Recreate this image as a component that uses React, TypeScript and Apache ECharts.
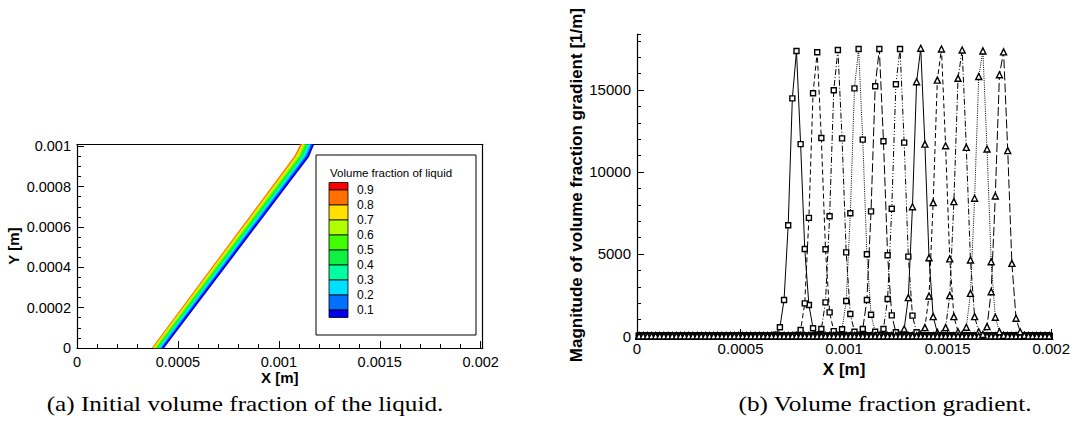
import React, { useEffect, useRef } from 'react';
import * as echarts from 'echarts';

// ---------- data: (a) contour lines of the volume fraction ----------
const LEVELS = ['0.9', '0.8', '0.7', '0.6', '0.5', '0.4', '0.3', '0.2', '0.1'];
// x of each contour line at y = 0, y = 0.00095 and y = 0.00101 (upper-left to lower-right)
const CONTOUR_Y = [0, 0.00095, 0.00101];
const CONTOUR_X_BOTTOM = [0.000376, 0.000382, 0.000388, 0.000395, 0.000401, 0.000407, 0.000413, 0.00042, 0.000426];
const CONTOUR_X_MID = [0.001082, 0.00109, 0.001098, 0.001106, 0.001114, 0.001122, 0.00113, 0.001137, 0.001145];
const CONTOUR_X_TOP = [0.001112, 0.00112, 0.001127, 0.001134, 0.001141, 0.001148, 0.001155, 0.001163, 0.00117];

// ---------- data: (b) gradient magnitude profiles ----------
const CELL_FIRST = 0.00001;
const CELL_WIDTH = 0.00002;
const CELL_COUNT = 100;
// first cell of non-zero values for each time step, then the non-zero values
const PROFILE_STARTS = [0.00067, 0.00077, 0.00087, 0.00097, 0.00107, 0.00117, 0.00127, 0.00137, 0.00147, 0.00157, 0.00167];
const PROFILE_1 = [80, 530, 2195, 6750, 14490, 17380, 11700, 5300, 1890, 470, 80];
const PROFILE_2 = [60, 365, 1990, 7200, 14800, 17300, 12070, 5290, 1440, 300, 50];
const PROFILE_3 = [70, 425, 2050, 7300, 14980, 17440, 12050, 5100, 1340, 260, 40];
const PROFILE_4 = [70, 410, 2130, 7480, 15100, 17500, 11970, 4980, 1300, 260, 40];
const PROFILE_5 = [70, 430, 2195, 7600, 15230, 17500, 11870, 4920, 1260, 225, 40];
const PROFILE_6 = [70, 430, 2255, 7760, 15350, 17500, 11790, 4840, 1240, 225, 40];
const PROFILE_7 = [70, 430, 2340, 7880, 15500, 17540, 11700, 4770, 1180, 220, 40];
const PROFILE_8 = [80, 510, 2440, 8130, 15600, 17500, 11600, 4700, 1180, 260, 40];
const PROFILE_9 = [80, 510, 2460, 8190, 15710, 17440, 11500, 4630, 1180, 260, 40];
const PROFILE_10 = [90, 530, 2600, 8400, 15820, 17380, 11400, 4530, 1140, 260, 40];
const PROFILE_11 = [90, 570, 2700, 8540, 15930, 17320, 11300, 4430, 1080, 260, 40];
const PROFILES = [PROFILE_1, PROFILE_2, PROFILE_3, PROFILE_4, PROFILE_5, PROFILE_6, PROFILE_7, PROFILE_8, PROFILE_9, PROFILE_10, PROFILE_11];

// ---------- styles ----------
const BAND_COLORS = ['#ff0000', '#ff7000', '#ffe000', '#b0ff00', '#40ff00', '#10f040', '#00ffa0', '#00e0ff', '#0070ff', '#0000f0'];
const LINE_COLORS = ['#ff7000', '#ffe000', '#b0ff00', '#40ff00', '#10f040', '#00ffa0', '#00e0ff', '#0070ff', '#0000f0'];
const DASHES: any[] = ['solid', [5, 3], [6, 2, 1, 2], [1, 1.2], [9, 3], [6, 2, 1, 2, 1, 2]];

const SANS = '"Liberation Sans", Arial, sans-serif';
const SERIF = '"Liberation Serif", "DejaVu Serif", serif';

function buildProfile(start: number, values: number[]) {
  const out: number[][] = [];
  for (let i = 0; i < CELL_COUNT; i++) {
    const x = +(CELL_FIRST + i * CELL_WIDTH).toFixed(6);
    const k = Math.round((x - start) / CELL_WIDTH);
    out.push([x, k >= 0 && k < values.length ? values[k] : 0]);
  }
  return out;
}

const fmt = (v: number) => String(+(+v).toFixed(6));

const axisCommon = (grid: number, min: number, max: number, interval: number, major: boolean, fontSize: number) => ({
  gridIndex: grid,
  type: 'value',
  min,
  max,
  interval,
  splitLine: { show: false },
  axisLine: { show: major, onZero: false, lineStyle: { color: '#000', width: 1.2 } },
  axisTick: { show: true, inside: true, length: major ? 7 : 4, lineStyle: { color: '#000', width: 1 } },
  axisLabel: {
    show: major,
    showMaxLabel: false,
    formatter: fmt,
    color: '#000',
    fontFamily: SANS,
    fontSize,
    margin: 6,
  },
});

const borderAxis = (grid: number, min: number, max: number, position: string) => ({
  gridIndex: grid,
  type: 'value',
  min,
  max,
  position,
  splitLine: { show: false },
  axisLine: { show: true, onZero: false, lineStyle: { color: '#000', width: 1.2 } },
  axisTick: { show: false },
  axisLabel: { show: false },
});

export default function App() {
  const ref = useRef<HTMLDivElement>(null);
  useEffect(() => {
    if (!ref.current) return;
    const chart = echarts.init(ref.current, undefined, { renderer: 'svg' });

    const contourSeries = LEVELS.map((lv, k) => ({
      type: 'line',
      name: 'contour ' + lv,
      xAxisIndex: 0,
      yAxisIndex: 0,
      showSymbol: false,
      silent: true,
      lineStyle: { color: LINE_COLORS[k], width: 2 },
      data: [
        [CONTOUR_X_BOTTOM[k], CONTOUR_Y[0]],
        [CONTOUR_X_MID[k], CONTOUR_Y[1]],
        [CONTOUR_X_TOP[k], CONTOUR_Y[2]],
      ],
    }));

    const profileSeries = PROFILES.map((vals, s) => ({
      type: 'line',
      name: 't' + (s + 1),
      xAxisIndex: 3,
      yAxisIndex: 3,
      symbol: s < 6 ? 'rect' : 'triangle',
      symbolSize: s < 6 ? 5 : 6,
      showAllSymbol: true,
      itemStyle: { color: '#fff', borderColor: '#000', borderWidth: 1.4 },
      lineStyle: { color: '#000', width: 1, type: DASHES[s % 6] },
      data: buildProfile(PROFILE_STARTS[s], vals),
    }));

    const swTop = 182.5;
    const swStep = 15;
    const swFirst = 190;
    const swatches: any[] = [];
    for (let b = 0; b < BAND_COLORS.length; b++) {
      const y0 = b === 0 ? swTop : swFirst + (b - 1) * swStep;
      const y1 = b === BAND_COLORS.length - 1 ? swFirst + (b - 1) * swStep + 7.5 : swFirst + b * swStep;
      swatches.push({
        type: 'rect',
        z: 11,
        shape: { x: 329, y: y0, width: 19, height: y1 - y0 },
        style: { fill: BAND_COLORS[b], stroke: '#000', lineWidth: 0.8 },
      });
    }
    const levelLabels = LEVELS.map((lv, k) => ({
      type: 'text',
      z: 11,
      style: {
        text: lv,
        x: 357,
        y: swFirst + k * swStep,
        fill: '#000',
        font: '12px ' + SANS,
        verticalAlign: 'middle',
        align: 'left',
      },
    }));

    chart.setOption({
      animation: false,
      backgroundColor: '#fff',
      grid: [
        { left: 77, top: 144.3, width: 405.7, height: 203.7 },
        { left: 637, top: 34.2, width: 415, height: 301.8 },
      ],
      xAxis: [
        {
          ...axisCommon(0, 0, 0.00201, 0.0005, true, 14.5), position: 'bottom',
          name: 'X [m]', nameLocation: 'middle', nameGap: 17,
          nameTextStyle: { color: '#000', fontFamily: SANS, fontSize: 15, fontWeight: 'bold' },
        },
        { ...axisCommon(0, 0, 0.00201, 0.0001, false, 14.5), position: 'bottom' },
        borderAxis(0, 0, 0.00201, 'top'),
        {
          ...axisCommon(1, 0, 0.002, 0.0005, true, 15), position: 'bottom',
          axisLabel: { show: true, formatter: fmt, color: '#000', fontFamily: SANS, fontSize: 15, margin: 5 },
          name: 'X [m]', nameLocation: 'middle', nameGap: 19,
          nameTextStyle: { color: '#000', fontFamily: SANS, fontSize: 17, fontWeight: 'bold' },
        },
        { ...axisCommon(1, 0, 0.002, 0.0001, false, 15), position: 'bottom' },
      ],
      yAxis: [
        {
          ...axisCommon(0, 0, 0.00101, 0.0002, true, 14.5), position: 'left',
          name: 'Y [m]', nameLocation: 'middle', nameGap: 56, nameRotate: 90,
          nameTextStyle: { color: '#000', fontFamily: SANS, fontSize: 15, fontWeight: 'bold' },
        },
        { ...axisCommon(0, 0, 0.00101, 0.00005, false, 14.5), position: 'left' },
        borderAxis(0, 0, 0.00101, 'right'),
        {
          ...axisCommon(1, 0, 18400, 5000, true, 15), position: 'left',
          name: 'Magnitude of volume fraction gradient [1/m]', nameLocation: 'middle', nameGap: 51, nameRotate: 90,
          nameTextStyle: { color: '#000', fontFamily: SANS, fontSize: 17, fontWeight: 'bold' },
        },
        { ...axisCommon(1, 0, 18400, 1000, false, 15), position: 'left' },
      ],
      series: [...contourSeries, ...profileSeries],
      graphic: [
        {
          type: 'rect',
          shape: { x: 316, y: 155, width: 160, height: 180 },
          style: { fill: '#fff', stroke: '#000', lineWidth: 1 },
          z: 10,
        },
        {
          type: 'text',
          z: 11,
          style: {
            text: 'Volume fraction of liquid', x: 330, y: 173,
            fill: '#000', font: '11.5px ' + SANS, verticalAlign: 'middle', align: 'left',
          },
        },
        ...swatches,
        ...levelLabels,
        {
          type: 'text',
          x: 245,
          y: 404,
          scaleX: 1.2,
          style: {
            text: '(a) Initial volume fraction of the liquid.', x: 0, y: 0,
            fill: '#000', font: '21px ' + SERIF, verticalAlign: 'middle', align: 'center',
          },
        },
        {
          type: 'text',
          x: 885,
          y: 404,
          scaleX: 1.2,
          style: {
            text: '(b) Volume fraction gradient.', x: 0, y: 0,
            fill: '#000', font: '21px ' + SERIF, verticalAlign: 'middle', align: 'center',
          },
        },
      ],
    });
    return () => chart.dispose();
  }, []);
  return (
    <div
      ref={ref}
      style={{ position: 'fixed', left: 0, top: 0, width: 1073, height: 426, background: '#fff' }}
    />
  );
}
